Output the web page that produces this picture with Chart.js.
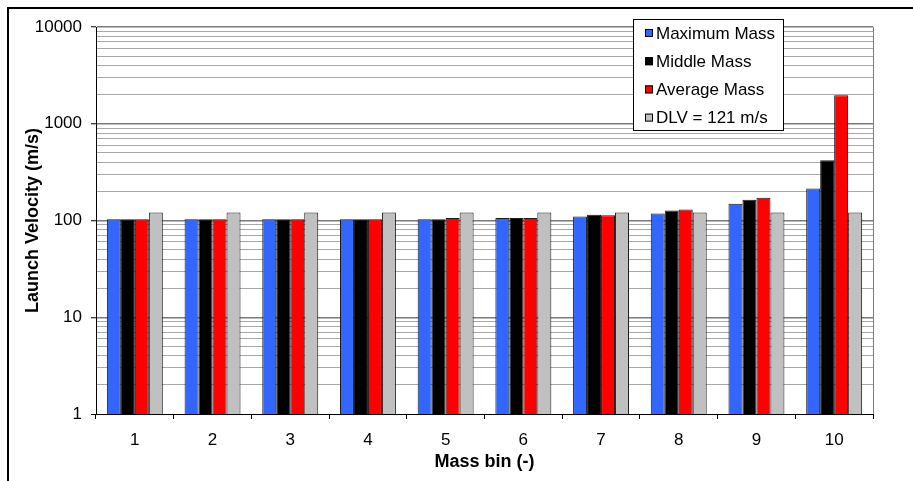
<!DOCTYPE html>
<html>
<head>
<meta charset="utf-8">
<script src="https://cdn.jsdelivr.net/npm/chart.js@4.4.1/dist/chart.umd.min.js"></script>
<style>
  body { margin: 0; background: #fff; }
  #wrap { position: relative; width: 913px; height: 481px; }
</style>
</head>
<body>
<div id="wrap"><canvas id="chart"></canvas></div>
<script>
const categories = ['1', '2', '3', '4', '5', '6', '7', '8', '9', '10'];
const maximumMass = [103, 103, 103, 103, 103, 106, 110, 118, 149, 214];
const middleMass  = [103, 103, 103, 103, 103, 106, 115, 127, 164, 420];
const averageMass = [103, 103, 103, 103, 106, 106, 113, 130, 172, 1970];
const dlv         = [121, 121, 121, 121, 121, 121, 121, 121, 121, 121];
const yTickLabels = [1, 10, 100, 1000, 10000];

const FONT = "'Liberation Sans', Arial, sans-serif";

// all log ticks 1,2..9,10,20..10000
const yTicks = [];
yTickLabels.forEach((d, i) => {
  if (i === yTickLabels.length - 1) { yTicks.push(d); return; }
  for (let k = 1; k < 10; k++) yTicks.push(d * k);
});

// frame lines, right edge of plot, in-plot legend
const decor = {
  id: 'decor',
  beforeDatasetsDraw(chart) {
    const { ctx, chartArea: a } = chart;
    ctx.save();
    ctx.strokeStyle = '#808080';
    ctx.lineWidth = 1;
    ctx.beginPath();
    ctx.moveTo(a.right + 0.5, a.top);
    ctx.lineTo(a.right + 0.5, a.bottom);
    ctx.stroke();
    ctx.restore();
  },
  afterDraw(chart) {
    const ctx = chart.ctx;
    ctx.save();
    // outer frame (only top and left visible)
    ctx.strokeStyle = '#000';
    ctx.lineWidth = 2;
    ctx.beginPath();
    ctx.moveTo(913, 8);
    ctx.lineTo(8, 8);
    ctx.lineTo(8, 481);
    ctx.stroke();

    // legend
    const bx = 633, by = 19, bw = 150, bh = 111;
    ctx.fillStyle = '#fff';
    ctx.fillRect(bx, by, bw, bh);
    ctx.lineWidth = 1;
    ctx.strokeRect(bx + 0.5, by + 0.5, bw, bh);
    ctx.font = '17px ' + FONT;
    ctx.textBaseline = 'middle';
    chart.data.datasets.forEach((ds, i) => {
      const cy = 33 + i * 28.2;
      ctx.fillStyle = ds.backgroundColor;
      ctx.fillRect(645, cy - 4, 8, 8);
      ctx.strokeStyle = '#000';
      ctx.strokeRect(645.5, cy - 3.5, 7, 7);
      ctx.fillStyle = '#000';
      ctx.fillText(ds.label, 656, cy + 1);
    });
    ctx.restore();
  }
};

new Chart(document.getElementById('chart'), {
  type: 'bar',
  data: {
    labels: categories,
    datasets: [
      { label: 'Maximum Mass', data: maximumMass, backgroundColor: '#3366FF' },
      { label: 'Middle Mass', data: middleMass, backgroundColor: '#000000' },
      { label: 'Average Mass', data: averageMass, backgroundColor: '#FF0000' },
      { label: 'DLV = 121 m/s', data: dlv, backgroundColor: '#C0C0C0' }
    ].map(d => Object.assign(d, {
      borderColor: '#1a1a1a',
      borderWidth: 1,
      categoryPercentage: 0.72,
      barPercentage: 1.0
    }))
  },
  options: {
    responsive: true,
    maintainAspectRatio: false,
    animation: false,
    layout: { padding: { left: 0, top: 27, right: 40, bottom: 0 } },
    plugins: {
      legend: { display: false },
      tooltip: { enabled: false }
    },
    scales: {
      x: {
        grid: {
          offset: true,
          drawOnChartArea: false,
          drawTicks: true,
          tickLength: 5,
          tickColor: '#000'
        },
        border: { display: true, color: '#000', width: 1 },
        ticks: { color: '#000', padding: 11, font: { family: FONT, size: 17 } },
        title: {
          display: true,
          text: 'Mass bin (-)',
          color: '#000',
          font: { family: FONT, size: 18, weight: 'bold' },
          padding: { top: 0, bottom: 8 }
        },
        afterFit: (scale) => { scale.height = 67; }
      },
      y: {
        type: 'logarithmic',
        min: 1,
        max: 10000,
        afterBuildTicks: (scale) => {
          scale.ticks = yTicks.map(v => ({ value: v, major: yTickLabels.includes(v) }));
        },
        afterFit: (scale) => { scale.width = 96; },
        grid: {
          drawTicks: true,
          tickLength: 5,
          color: (c) => {
            const v = c.tick && c.tick.value;
            if (v === 1) return '#000';
            return yTickLabels.includes(v) ? '#7a7a7a' : '#a8a8a8';
          },
          lineWidth: (c) => (c.tick && yTickLabels.includes(c.tick.value) && c.tick.value !== 1) ? 1.5 : 1,
          tickColor: (c) => (c.tick && yTickLabels.includes(c.tick.value)) ? '#000' : 'rgba(0,0,0,0)',
          tickWidth: 1
        },
        border: { display: true, color: '#000', width: 1 },
        ticks: {
          autoSkip: false,
          color: '#000',
          padding: 9,
          font: { family: FONT, size: 17 },
          callback: (v) => yTickLabels.includes(v) ? String(v) : ''
        },
        title: {
          display: true,
          text: 'Launch Velocity (m/s)',
          color: '#000',
          font: { family: FONT, size: 18, weight: 'bold' },
          padding: { top: 22, bottom: 0 }
        }
      }
    }
  },
  plugins: [decor]
});
</script>
</body>
</html>
